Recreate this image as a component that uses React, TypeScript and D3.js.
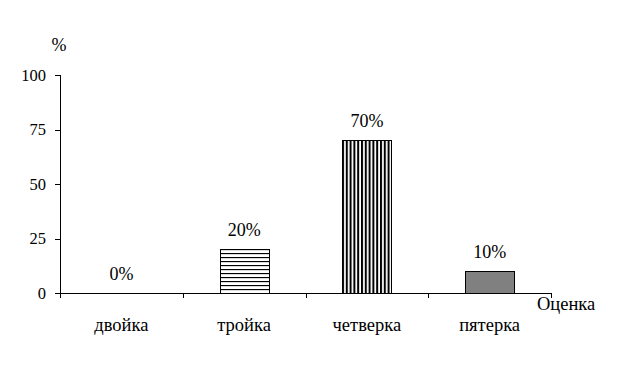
import React from "react";
import * as d3 from "d3";

const categories = ["двойка", "тройка", "четверка", "пятерка"];
const values = [0, 20, 70, 10];
const valueLabels = ["0%", "20%", "70%", "10%"];
const yTicks = [0, 25, 50, 75, 100];
const patterns = ["none", "hlines", "vlines", "gray"];

export default function App() {
  const W = 623, H = 383;
  const x0 = 60, x1 = 551, yTop = 75, yBot = 293;
  const x = d3.scaleBand<string>().domain(categories).range([x0, x1]).padding(0);
  const y = d3.scaleLinear().domain([0, 100]).range([yBot, yTop]);
  const barW = 49;
  const font = "'Liberation Serif', 'Times New Roman', serif";
  const edges = [...categories.map((c) => x(c)!), x1];
  return (
    <svg width={W} height={H} style={{ position: "absolute", left: 0, top: 0, background: "#fff" }}>
      <defs>
        <pattern id="hlines" patternUnits="userSpaceOnUse" width={4} height={4} y={yBot}>
          <rect width={4} height={4} fill="#fff" />
          <line x1={0} x2={4} y1={0.5} y2={0.5} stroke="#000" strokeWidth={1.3} />
        </pattern>
        <pattern id="vlines" patternUnits="userSpaceOnUse" width={3.8} height={4} x={342}>
          <rect width={3.8} height={4} fill="#fff" />
          <line x1={1} x2={1} y1={0} y2={4} stroke="#000" strokeWidth={2} />
        </pattern>
      </defs>
      <rect width={W} height={H} fill="#fff" />
      {/* y axis */}
      <line x1={x0 + 0.5} x2={x0 + 0.5} y1={yTop} y2={yBot} stroke="#000" />
      {yTicks.map((t) => (
        <g key={t}>
          <line x1={x0 - 5} x2={x0} y1={Math.round(y(t)) + 0.5} y2={Math.round(y(t)) + 0.5} stroke="#000" />
          <text x={46} y={y(t)} dy="0.35em" textAnchor="end" fontFamily={font} fontSize={16.5}>
            {t}
          </text>
        </g>
      ))}
      <text x={59} y={45} dy="0.35em" textAnchor="middle" fontFamily={font} fontSize={18}>%</text>
      {/* bars */}
      {categories.map((c, i) => {
        const cx = x(c)! + x.bandwidth() / 2;
        const v = values[i];
        const top = y(v);
        const p = patterns[i];
        return (
          <g key={c}>
            {v > 0 && (
              <rect
                x={Math.round(cx - barW / 2) + 0.5}
                y={Math.round(top) + 0.5}
                width={barW}
                height={yBot - Math.round(top)}
                fill={p === "gray" ? "#808080" : `url(#${p})`}
                stroke="#000"
                strokeWidth={1}
              />
            )}
            <text x={cx} y={top - 13} textAnchor="middle" fontFamily={font} fontSize={18}>
              {valueLabels[i]}
            </text>
            <text x={cx} y={325} dy="0.35em" textAnchor="middle" fontFamily={font} fontSize={18.5}>
              {c}
            </text>
          </g>
        );
      })}
      {/* x axis */}
      <line x1={x0} x2={x1} y1={yBot + 0.5} y2={yBot + 0.5} stroke="#000" />
      {edges.map((e, i) => (
        <line key={i} x1={Math.round(e) + 0.5} x2={Math.round(e) + 0.5} y1={yBot} y2={yBot + 5} stroke="#000" />
      ))}
      <text x={537} y={304} dy="0.35em" fontFamily={font} fontSize={18.5}>Оценка</text>
    </svg>
  );
}
